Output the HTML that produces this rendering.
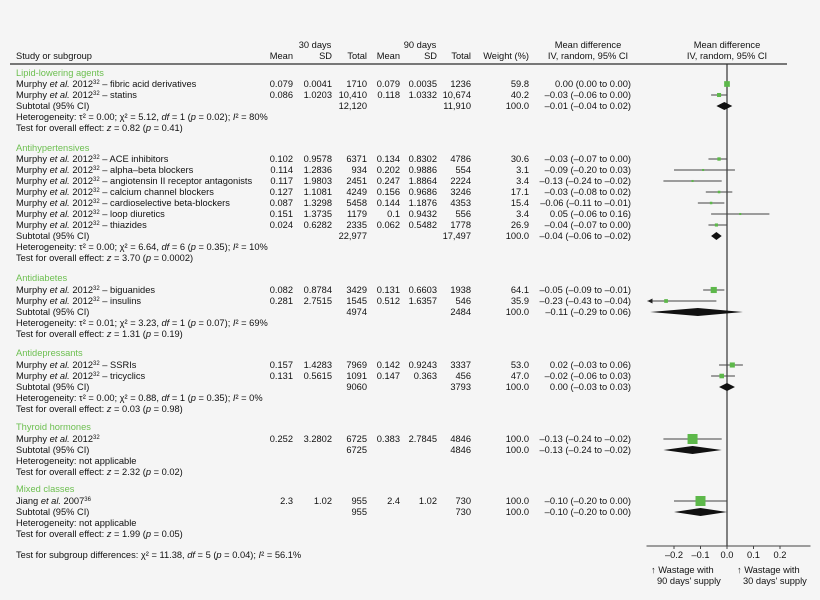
<!DOCTYPE html>
<html><head><meta charset="utf-8">
<style>
html,body{margin:0;padding:0;background:#f5f5f5;}
svg{display:block;font-family:"Liberation Sans",sans-serif;font-size:9.3px;fill:#111;}
.g{fill:#6cbf4f;}
.r{text-anchor:end;}
.c{text-anchor:middle;}
</style></head>
<body>
<svg id="chart" width="820" height="600" viewBox="0 0 820 600" xmlns="http://www.w3.org/2000/svg">
<rect width="820" height="600" fill="#f5f5f5"/>
<g>
<text x="16" y="59">Study or subgroup</text>
<text x="315" y="48" class="c">30 days</text>
<text x="420" y="48" class="c">90 days</text>
<text x="293" y="59" class="r">Mean</text><text x="332" y="59" class="r">SD</text><text x="367" y="59" class="r">Total</text>
<text x="400" y="59" class="r">Mean</text><text x="437" y="59" class="r">SD</text><text x="471" y="59" class="r">Total</text>
<text x="529" y="59" class="r">Weight (%)</text>
<text x="588" y="48" class="c">Mean difference</text><text x="588" y="59" class="c">IV, random, 95% CI</text>
<text x="727" y="48" class="c">Mean difference</text><text x="727" y="59" class="c">IV, random, 95% CI</text>
</g>
<line x1="10" y1="64" x2="787" y2="64" stroke="#777" stroke-width="2"/>

<g>
<text x="16" y="76" class="g">Lipid-lowering agents</text>
<text x="16" y="87">Murphy <tspan font-style="italic">et al.</tspan> 2012<tspan dy="-3" font-size="6">32</tspan><tspan dy="3"> – fibric acid derivatives</tspan></text>
<text x="16" y="98">Murphy <tspan font-style="italic">et al.</tspan> 2012<tspan dy="-3" font-size="6">32</tspan><tspan dy="3"> – statins</tspan></text>
<text x="16" y="109">Subtotal (95% CI)</text>
<text x="16" y="120">Heterogeneity: τ² = 0.00; χ² = 5.12, <tspan font-style="italic">df</tspan> = 1 (<tspan font-style="italic">p</tspan> = 0.02); <tspan font-style="italic">I</tspan>² = 80%</text>
<text x="16" y="131">Test for overall effect: <tspan font-style="italic">z</tspan> = 0.82 (<tspan font-style="italic">p</tspan> = 0.41)</text>

<text x="16" y="151" class="g">Antihypertensives</text>
<text x="16" y="162">Murphy <tspan font-style="italic">et al.</tspan> 2012<tspan dy="-3" font-size="6">32</tspan><tspan dy="3"> – ACE inhibitors</tspan></text>
<text x="16" y="173">Murphy <tspan font-style="italic">et al.</tspan> 2012<tspan dy="-3" font-size="6">32</tspan><tspan dy="3"> – alpha–beta blockers</tspan></text>
<text x="16" y="184">Murphy <tspan font-style="italic">et al.</tspan> 2012<tspan dy="-3" font-size="6">32</tspan><tspan dy="3"> – angiotensin II receptor antagonists</tspan></text>
<text x="16" y="195">Murphy <tspan font-style="italic">et al.</tspan> 2012<tspan dy="-3" font-size="6">32</tspan><tspan dy="3"> – calcium channel blockers</tspan></text>
<text x="16" y="206">Murphy <tspan font-style="italic">et al.</tspan> 2012<tspan dy="-3" font-size="6">32</tspan><tspan dy="3"> – cardioselective beta-blockers</tspan></text>
<text x="16" y="217">Murphy <tspan font-style="italic">et al.</tspan> 2012<tspan dy="-3" font-size="6">32</tspan><tspan dy="3"> – loop diuretics</tspan></text>
<text x="16" y="228">Murphy <tspan font-style="italic">et al.</tspan> 2012<tspan dy="-3" font-size="6">32</tspan><tspan dy="3"> – thiazides</tspan></text>
<text x="16" y="239">Subtotal (95% CI)</text>
<text x="16" y="250">Heterogeneity: τ² = 0.00; χ² = 6.64, <tspan font-style="italic">df</tspan> = 6 (<tspan font-style="italic">p</tspan> = 0.35); <tspan font-style="italic">I</tspan>² = 10%</text>
<text x="16" y="261">Test for overall effect: <tspan font-style="italic">z</tspan> = 3.70 (<tspan font-style="italic">p</tspan> = 0.0002)</text>

<text x="16" y="281" class="g">Antidiabetes</text>
<text x="16" y="293">Murphy <tspan font-style="italic">et al.</tspan> 2012<tspan dy="-3" font-size="6">32</tspan><tspan dy="3"> – biguanides</tspan></text>
<text x="16" y="304">Murphy <tspan font-style="italic">et al.</tspan> 2012<tspan dy="-3" font-size="6">32</tspan><tspan dy="3"> – insulins</tspan></text>
<text x="16" y="315">Subtotal (95% CI)</text>
<text x="16" y="326">Heterogeneity: τ² = 0.01; χ² = 3.23, <tspan font-style="italic">df</tspan> = 1 (<tspan font-style="italic">p</tspan> = 0.07); <tspan font-style="italic">I</tspan>² = 69%</text>
<text x="16" y="337">Test for overall effect: <tspan font-style="italic">z</tspan> = 1.31 (<tspan font-style="italic">p</tspan> = 0.19)</text>

<text x="16" y="356" class="g">Antidepressants</text>
<text x="16" y="368">Murphy <tspan font-style="italic">et al.</tspan> 2012<tspan dy="-3" font-size="6">32</tspan><tspan dy="3"> – SSRIs</tspan></text>
<text x="16" y="379">Murphy <tspan font-style="italic">et al.</tspan> 2012<tspan dy="-3" font-size="6">32</tspan><tspan dy="3"> – tricyclics</tspan></text>
<text x="16" y="390">Subtotal (95% CI)</text>
<text x="16" y="401">Heterogeneity: τ² = 0.00; χ² = 0.88, <tspan font-style="italic">df</tspan> = 1 (<tspan font-style="italic">p</tspan> = 0.35); <tspan font-style="italic">I</tspan>² = 0%</text>
<text x="16" y="412">Test for overall effect: <tspan font-style="italic">z</tspan> = 0.03 (<tspan font-style="italic">p</tspan> = 0.98)</text>

<text x="16" y="430" class="g">Thyroid hormones</text>
<text x="16" y="442">Murphy <tspan font-style="italic">et al.</tspan> 2012<tspan dy="-3" font-size="6">32</tspan></text>
<text x="16" y="453">Subtotal (95% CI)</text>
<text x="16" y="464">Heterogeneity: not applicable</text>
<text x="16" y="475">Test for overall effect: <tspan font-style="italic">z</tspan> = 2.32 (<tspan font-style="italic">p</tspan> = 0.02)</text>

<text x="16" y="492" class="g">Mixed classes</text>
<text x="16" y="504">Jiang <tspan font-style="italic">et al.</tspan> 2007<tspan dy="-3" font-size="6">36</tspan></text>
<text x="16" y="515">Subtotal (95% CI)</text>
<text x="16" y="526">Heterogeneity: not applicable</text>
<text x="16" y="537">Test for overall effect: <tspan font-style="italic">z</tspan> = 1.99 (<tspan font-style="italic">p</tspan> = 0.05)</text>

<text x="16" y="558">Test for subgroup differences: χ² = 11.38, <tspan font-style="italic">df</tspan> = 5 (<tspan font-style="italic">p</tspan> = 0.04); <tspan font-style="italic">I</tspan>² = 56.1%</text>
</g>

<g id="numcols"></g>
<g id="plot"></g>
<g>
<text x="651" y="573">↑ Wastage with</text><text x="657" y="584">90 days' supply</text>
<text x="737" y="573">↑ Wastage with</text><text x="743" y="584">30 days' supply</text>
</g>
</svg>
<script>
const studyRowY = [84,95,159,170,181,192,203,214,225,290,301,365,376,439,501];
const mean30 = ["0.079","0.086","0.102","0.114","0.117","0.127","0.087","0.151","0.024","0.082","0.281","0.157","0.131","0.252","2.3"];
const sd30 = ["0.0041","1.0203","0.9578","1.2836","1.9803","1.1081","1.3298","1.3735","0.6282","0.8784","2.7515","1.4283","0.5615","3.2802","1.02"];
const total30 = ["1710","10,410","6371","934","2451","4249","5458","1179","2335","3429","1545","7969","1091","6725","955"];
const mean90 = ["0.079","0.118","0.134","0.202","0.247","0.156","0.144","0.1","0.062","0.131","0.512","0.142","0.147","0.383","2.4"];
const sd90 = ["0.0035","1.0332","0.8302","0.9886","1.8864","0.9686","1.1876","0.9432","0.5482","0.6603","1.6357","0.9243","0.363","2.7845","1.02"];
const total90 = ["1236","10,674","4786","554","2224","3246","4353","556","1778","1938","546","3337","456","4846","730"];
const weights = [59.8,40.2,30.6,3.1,3.4,17.1,15.4,3.4,26.9,64.1,35.9,53.0,47.0,100.0,100.0];
const md = [0.00,-0.03,-0.03,-0.09,-0.13,-0.03,-0.06,0.05,-0.04,-0.05,-0.23,0.02,-0.02,-0.13,-0.10];
const lo = [-0.00,-0.06,-0.07,-0.20,-0.24,-0.08,-0.11,-0.06,-0.07,-0.09,-0.43,-0.03,-0.06,-0.24,-0.20];
const hi = [0.00,-0.00,0.00,0.03,-0.02,0.02,-0.01,0.16,-0.00,-0.01,-0.04,0.06,0.03,-0.02,-0.00];
const subRowY = [106,236,312,387,450,512];
const subTotal30 = ["12,120","22,977","4974","9060","6725","955"];
const subTotal90 = ["11,910","17,497","2484","3793","4846","730"];
const subMd = [-0.01,-0.04,-0.11,0.00,-0.13,-0.10];
const subLo = [-0.04,-0.06,-0.29,-0.03,-0.24,-0.20];
const subHi = [0.02,-0.02,0.06,0.03,-0.02,-0.00];
const ticks = [-0.2,-0.1,0.0,0.1,0.2];
const tickLabels = ["–0.2","–0.1","0.0","0.1","0.2"];

const NS="http://www.w3.org/2000/svg";
const X0=727, SC=265, XMIN=-0.3, XMAX=0.3;
function xs(v){return X0+Math.max(XMIN,Math.min(XMAX,v))*SC;}
function fmt(v){return (v<0?"–":"")+Math.abs(v).toFixed(2);}
function mk(tag,attrs,parent){const e=document.createElementNS(NS,tag);for(const k in attrs)e.setAttribute(k,attrs[k]);parent.appendChild(e);return e;}
function txt(x,y,s,parent,cls){const t=mk("text",{x:x,y:y,class:cls||"r"},parent);t.textContent=s;return t;}
const nc=document.getElementById("numcols");
const pl=document.getElementById("plot");

for(let i=0;i<md.length;i++){
  const y=studyRowY[i]+3;
  const cols=[[293,mean30[i]],[332,sd30[i]],[367,total30[i]],[400,mean90[i]],[437,sd90[i]],[471,total90[i]],[529,weights[i].toFixed(1)],[631,fmt(md[i])+" ("+fmt(lo[i])+" to "+fmt(hi[i])+")"]];
  for(const c of cols){
    const t=txt(c[0],y,c[1],nc);
    
    
  }
}
for(let i=0;i<subMd.length;i++){
  const y=subRowY[i]+3;
  const cols=[[367,subTotal30[i]],[471,subTotal90[i]],[529,"100.0"],[631,fmt(subMd[i])+" ("+fmt(subLo[i])+" to "+fmt(subHi[i])+")"]];
  for(const c of cols){
    const t=txt(c[0],y,c[1],nc);
    
    
  }
}
const zl=mk("line",{x1:X0,y1:64,x2:X0,y2:546,stroke:"#333","stroke-width":1.2},pl);


const ax=mk("line",{x1:xs(XMIN)-1,y1:546,x2:xs(XMAX)+4,y2:546,stroke:"#444","stroke-width":1},pl);


for(let i=0;i<ticks.length;i++){
  const tk=mk("line",{x1:xs(ticks[i]),y1:546,x2:xs(ticks[i]),y2:549,stroke:"#444"},pl);
  
  
  const tl=txt(xs(ticks[i]),558,tickLabels[i],pl,"c");
  
  
}
for(let i=0;i<md.length;i++){
  const y=studyRowY[i];
  const ci=mk("line",{x1:xs(lo[i]),y1:y,x2:xs(hi[i]),y2:y,stroke:"#444","stroke-width":1},pl);
  
  
  if(lo[i]<XMIN){
    const ar=mk("path",{d:"M"+xs(XMIN)+","+y+" l5,-2.5 l0,5 z",fill:"#222"},pl);
    
    
  }
  const s=2+8*Math.pow(weights[i]/100,1.5);
  const sq=mk("rect",{x:xs(md[i])-s/2,y:y-s/2,width:s,height:s,fill:"#5db84a"},pl);
  
  
}
for(let i=0;i<subMd.length;i++){
  const y=subRowY[i];
  const d="M"+xs(subLo[i])+","+y+" L"+xs(subMd[i])+","+(y-4)+" L"+xs(subHi[i])+","+y+" L"+xs(subMd[i])+","+(y+4)+" Z";
  const dm=mk("path",{d:d,fill:"#111"},pl);
  
  
}
</script>
</body></html>
